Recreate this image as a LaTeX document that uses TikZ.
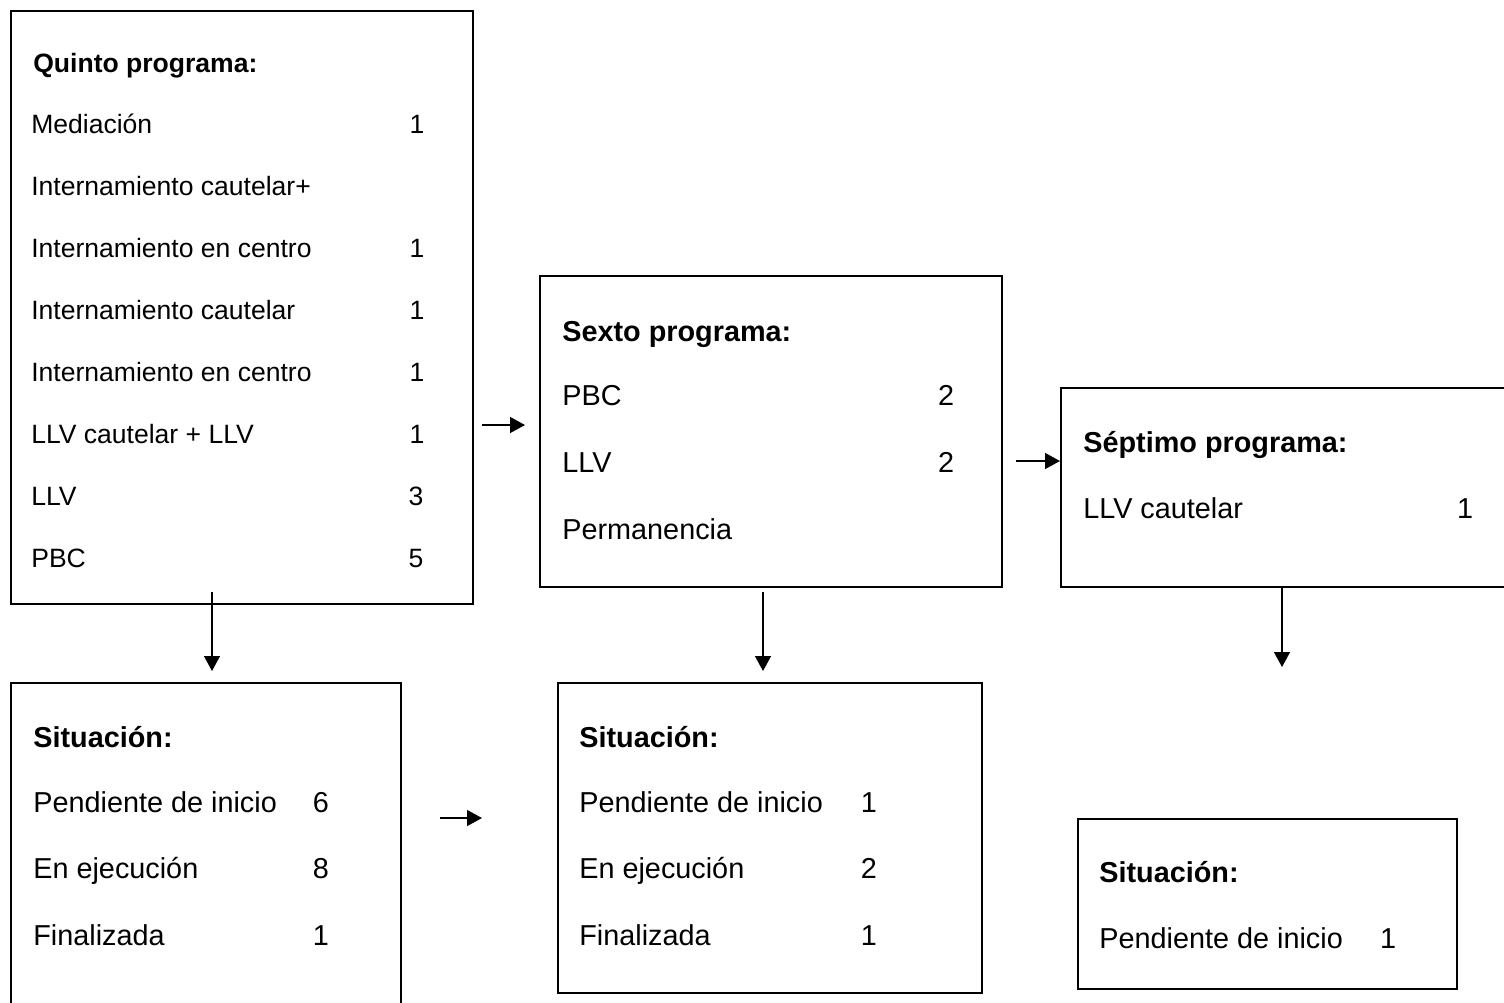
\documentclass[tikz,border=0pt]{standalone}
\usepackage{fontspec}
\setmainfont{Liberation Sans}
\usetikzlibrary{arrows.meta, positioning}

\newcommand{\qsize}{\fontsize{15.1}{17}\selectfont}
\newcommand{\bsize}{\fontsize{16.4}{19}\selectfont}

\tikzset{
    box/.style={draw, line width=1.1pt, rectangle, anchor=north west, inner sep=0pt},
    qtxt/.style={anchor=base west, inner sep=0pt, font=\qsize},
    qnum/.style={anchor=base, inner sep=0pt, font=\qsize},
    btxt/.style={anchor=base west, inner sep=0pt, font=\bsize},
    bnum/.style={anchor=base, inner sep=0pt, font=\bsize},
    arr/.style={line width=1pt, -{Triangle[length=8.5pt,width=9pt]}}
}

\begin{document}
\begin{tikzpicture}[x=0.02cm, y=-0.02cm]
    % Page
    \fill[white] (0,0) rectangle (1504,1002);
    \path[use as bounding box, clip] (0,0) rectangle (1504,1002);

    % Boxes
    \node[box, minimum width=9.24cm, minimum height=11.86cm] (quinto) at (10,10) {};
    \node[box, minimum width=9.24cm, minimum height=6.22cm] (sexto) at (539,275) {};
    \node[box, minimum width=9.4cm, minimum height=3.98cm] (septimo) at (1060,387) {};
    \node[box, minimum width=7.8cm, minimum height=6.9cm] (sit1) at (10,682) {};
    \node[box, minimum width=8.48cm, minimum height=6.2cm] (sit2) at (557,682) {};
    \node[box, minimum width=7.58cm, minimum height=3.4cm] (sit3) at (1077,818) {};

    % Quinto programa
    \node[qtxt] (qtitle) at (33,72) {\textbf{Quinto programa:}};
    \node[qtxt] (q1) at (31,133) {Mediación};
    \node[qnum] (q1n) at (417,133) {1};
    \node[qtxt] (q2) at (31,195) {Internamiento cautelar+};
    \node[qtxt] (q3) at (31,257) {Internamiento en centro};
    \node[qnum] (q3n) at (417,257) {1};
    \node[qtxt] (q4) at (31,319) {Internamiento cautelar};
    \node[qnum] (q4n) at (417,319) {1};
    \node[qtxt] (q5) at (31,381) {Internamiento en centro};
    \node[qnum] (q5n) at (417,381) {1};
    \node[qtxt] (q6) at (31,443) {LLV cautelar + LLV};
    \node[qnum] (q6n) at (417,443) {1};
    \node[qtxt] (q7) at (31,505) {LLV};
    \node[qnum] (q7n) at (416,505) {3};
    \node[qtxt] (q8) at (31,567) {PBC};
    \node[qnum] (q8n) at (416,567) {5};

    % Sexto programa
    \node[btxt] (stitle) at (562,341) {\textbf{Sexto programa:}};
    \node[btxt] (s1) at (562,405) {PBC};
    \node[bnum] (s1n) at (946,405) {2};
    \node[btxt] (s2) at (562,472) {LLV};
    \node[bnum] (s2n) at (946,472) {2};
    \node[btxt] (s3) at (562,539) {Permanencia};

    % Septimo programa
    \node[btxt] (ptitle) at (1083,452) {\textbf{Séptimo programa:}};
    \node[btxt] (p1) at (1083,518) {LLV cautelar};
    \node[bnum] (p1n) at (1465,518) {1};

    % Situacion (quinto)
    \node[btxt] (atitle) at (33,747) {\textbf{Situación:}};
    \node[btxt] (a1) at (33,812) {Pendiente de inicio};
    \node[bnum] (a1n) at (321,812) {6};
    \node[btxt] (a2) at (33,878) {En ejecución};
    \node[bnum] (a2n) at (321,878) {8};
    \node[btxt] (a3) at (33,945) {Finalizada};
    \node[bnum] (a3n) at (321,945) {1};

    % Situacion (sexto)
    \node[btxt] (btitle) at (579,747) {\textbf{Situación:}};
    \node[btxt] (b1) at (579,812) {Pendiente de inicio};
    \node[bnum] (b1n) at (869,812) {1};
    \node[btxt] (b2) at (579,878) {En ejecución};
    \node[bnum] (b2n) at (869,878) {2};
    \node[btxt] (b3) at (579,945) {Finalizada};
    \node[bnum] (b3n) at (869,945) {1};

    % Situacion (septimo)
    \node[btxt] (ctitle) at (1099,882) {\textbf{Situación:}};
    \node[btxt] (c1) at (1099,948) {Pendiente de inicio};
    \node[bnum] (c1n) at (1388,948) {1};

    % Arrows
    \coordinate (h1s) at (482,425);
    \coordinate (h1e) at (525,425);
    \coordinate (h2s) at (1016,461);
    \coordinate (h3s) at (440,818);
    \coordinate (h3e) at (482,818);
    \coordinate (v1s) at (212,592);
    \coordinate (v1e) at (212,671);
    \coordinate (v2s) at (763,592);
    \coordinate (v2e) at (763,671);
    \coordinate (v3s) at (1282,588);
    \coordinate (v3e) at (1282,667);

    \draw[arr] (h1s) -- (h1e);
    \draw[arr] (h2s) -- (h2s -| septimo.west);
    \draw[arr] (h3s) -- (h3e);
    \draw[arr] (v1s) -- (v1e);
    \draw[arr] (v2s) -- (v2e);
    \draw[arr] (v3s) -- (v3e);
\end{tikzpicture}
\end{document}
